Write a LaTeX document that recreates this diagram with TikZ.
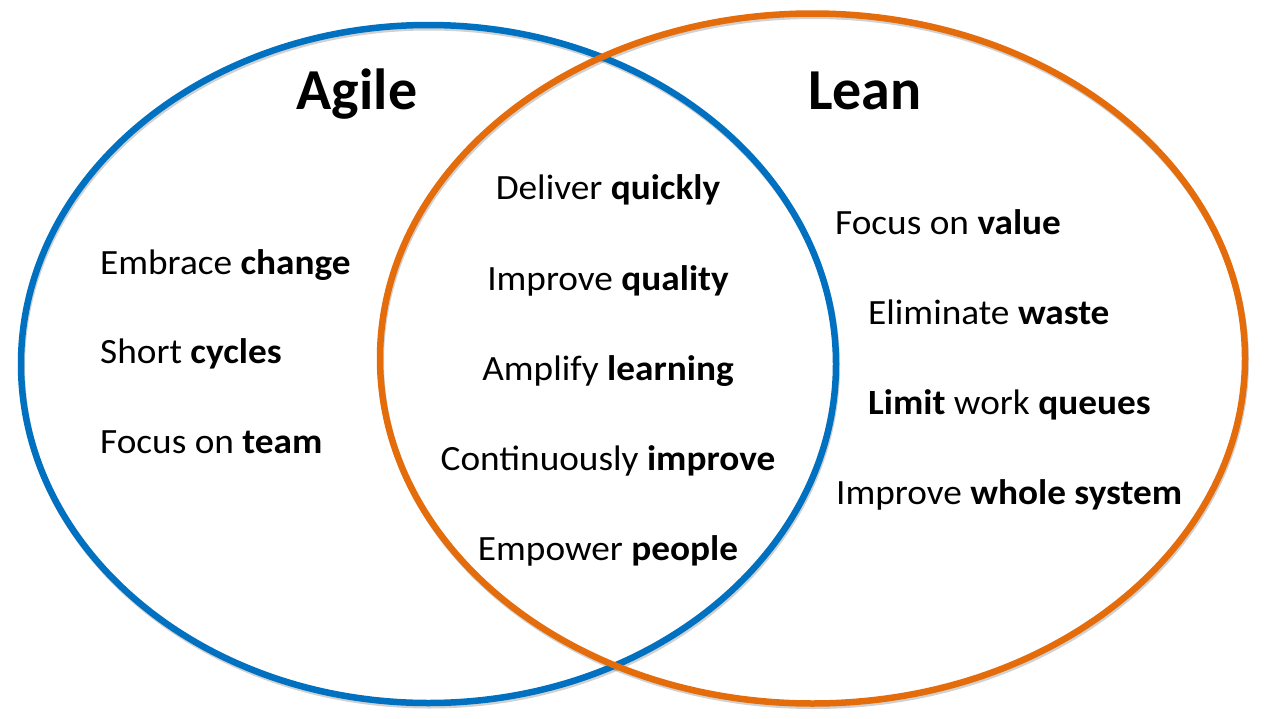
\documentclass[tikz,border=0pt]{standalone}
\usepackage{fontspec}
\setmainfont{Carlito}
\newfontfamily\itemfont[FakeStretch=1.05]{Carlito}
\definecolor{agileblue}{HTML}{0070C0}
\definecolor{leanorange}{HTML}{E46C0A}
\tikzset{
  ring/.style={line width=6.5pt},
  ringshadow/.style={line width=6pt, draw=black, draw opacity=0.18},
  title/.style={font=\fontsize{58}{60}\selectfont\bfseries, anchor=base},
  item/.style={font=\itemfont\fontsize{35.5}{38}\selectfont, inner sep=0pt},
  leftitem/.style={item, anchor=base west},
  miditem/.style={item, anchor=base},
}
\begin{document}
\begin{tikzpicture}[x=1pt,y=-1pt]
  \useasboundingbox (0,0) rectangle (1280,718);
  % soft shadows under the two rings
  \draw[ringshadow] (429.5,366.5) ellipse [x radius=407.5, y radius=339];
  \draw[ringshadow] (813.5,361) ellipse [x radius=432.5, y radius=345];
  % the two sets
  \draw[ring, agileblue] (428.5,364) ellipse [x radius=407.5, y radius=339];
  \draw[ring, leanorange] (812.5,358.5) ellipse [x radius=432.5, y radius=345];

  % headings
  \node[title] (agile) at (357,109) {Agile};
  \node[title] (lean) at (865,109) {Lean};

  % Agile only
  \node[leftitem] (a1) at (100,274) {Embrace \textbf{change}};
  \node[leftitem] (a2) at (100,363) {Short \textbf{cycles}};
  \node[leftitem] (a3) at (100,453) {Focus on \textbf{team}};

  % shared
  \node[miditem] (c1) at (608,199) {Deliver \textbf{quickly}};
  \node[miditem] (c2) at (608,290) {Improve \textbf{quality}};
  \node[miditem] (c3) at (608,380) {Amplify \textbf{learning}};
  \node[miditem] (c4) at (608,470) {Continuously \textbf{improve}};
  \node[miditem] (c5) at (608,560) {Empower \textbf{people}};

  % Lean only
  \node[leftitem] (l1) at (835,234) {Focus on \textbf{value}};
  \node[leftitem] (l2) at (868,324) {Eliminate \textbf{waste}};
  \node[leftitem] (l3) at (868,414) {\textbf{Limit} work \textbf{queues}};
  \node[leftitem] (l4) at (836,504) {Improve \textbf{whole system}};
\end{tikzpicture}
\end{document}
